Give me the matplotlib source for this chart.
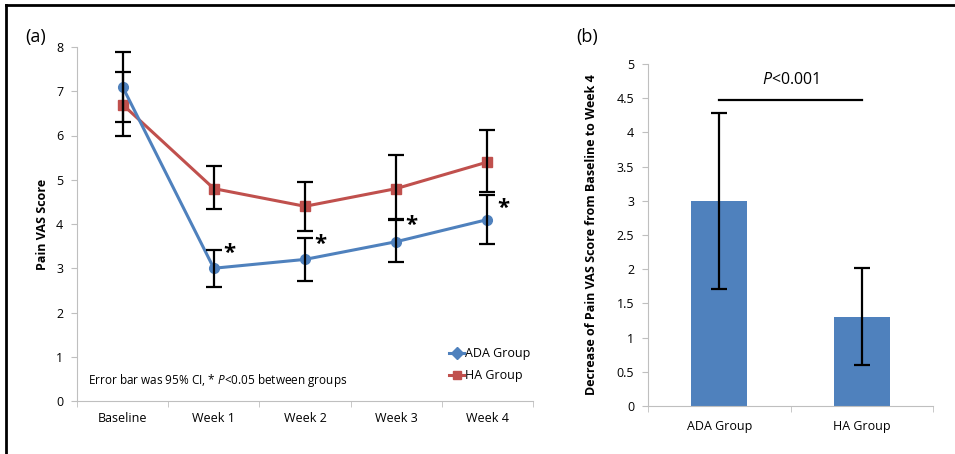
import matplotlib
matplotlib.use("Agg")
import matplotlib.pyplot as plt
from matplotlib.lines import Line2D
import numpy as np

plt.rcParams['font.family'] = ['Open Sans', 'DejaVu Sans']
plt.rcParams['mathtext.fontset'] = 'custom'
plt.rcParams['mathtext.rm'] = 'Open Sans'
plt.rcParams['mathtext.it'] = 'Open Sans:italic'
plt.rcParams['mathtext.bf'] = 'Open Sans:bold'

# ---- data panel (a)
timepoints = ["Baseline", "Week 1", "Week 2", "Week 3", "Week 4"]
ada_mean = [7.1, 3.0, 3.2, 3.6, 4.1]
ada_lo = [6.31, 2.58, 2.71, 3.13, 3.54]
ada_hi = [7.89, 3.42, 3.69, 4.12, 4.66]
ha_mean = [6.7, 4.8, 4.4, 4.8, 5.4]
ha_lo = [6.0, 4.34, 3.85, 4.1, 4.72]
ha_hi = [7.44, 5.32, 4.96, 5.55, 6.12]
star_y = [None, 3.33, 3.53, 3.96, 4.36]

# ---- data panel (b)
groups = ["ADA Group", "HA Group"]
decrease = [3.0, 1.3]
dec_lo = [1.71, 0.6]
dec_hi = [4.28, 2.02]
sig_y = 4.47
sig_text = 4.77

blue = "#4F81BD"
red = "#C0504D"
gray = "#BFBFBF"

fig = plt.figure(figsize=(9.55, 4.54), dpi=100)

# border
fig.add_artist(Line2D([6/955, 6/955], [0, 1 - 5/454], color="black", lw=2, transform=fig.transFigure))
fig.add_artist(Line2D([6/955, 1], [1 - 5/454, 1 - 5/454], color="black", lw=2, transform=fig.transFigure))

# ---------- panel (a)
ax = fig.add_axes([77/955, 53/454, 456/955, 354/454])
x = np.arange(len(timepoints))
ax.errorbar(x, ada_mean, yerr=[np.array(ada_mean) - np.array(ada_lo), np.array(ada_hi) - np.array(ada_mean)],
            fmt='none', ecolor='black', elinewidth=1.6, capsize=6, capthick=1.6, zorder=3)
ax.errorbar(x, ha_mean, yerr=[np.array(ha_mean) - np.array(ha_lo), np.array(ha_hi) - np.array(ha_mean)],
            fmt='none', ecolor='black', elinewidth=1.6, capsize=6, capthick=1.6, zorder=3)
ax.plot(x, ha_mean, color=red, lw=2.2, marker='s', ms=7, zorder=2)
ax.plot(x, ada_mean, color=blue, lw=2.2, marker='o', ms=7, zorder=2)
for xi, sy in zip(x, star_y):
    if sy is not None:
        ax.text(xi + 0.17, sy, "*", fontsize=16, fontweight='bold', ha='center', va='center')

ax.set_xlim(-0.5, 4.5)
ax.set_ylim(0, 8)
ax.set_yticks(range(0, 9))
ax.set_xticks(x)
ax.set_xticklabels(timepoints, fontsize=9)
ax.set_xticks(np.arange(-0.5, 5, 1.0), minor=True)
ax.tick_params(axis='x', which='major', length=0, pad=8)
ax.tick_params(axis='x', which='minor', length=4, color=gray)
ax.tick_params(axis='y', length=4, color=gray, labelsize=9, pad=6)
for s in ['top', 'right']:
    ax.spines[s].set_visible(False)
for s in ['left', 'bottom']:
    ax.spines[s].set_color(gray)
ax.set_ylabel("Pain VAS Score", fontsize=9, fontweight='bold', labelpad=5)
ax.text(0.025, 0.035, "Error bar was 95% CI, * $\\it{P}$<0.05 between groups", transform=ax.transAxes,
        fontsize=8.5, ha='left', va='bottom')
handles = [Line2D([0], [0], color=blue, lw=2.2, marker='D', ms=6),
           Line2D([0], [0], color=red, lw=2.2, marker='s', ms=6)]
fig.legend(handles, ["ADA Group", "HA Group"], loc='upper left', bbox_to_anchor=(449/955, 1 - 347/454),
           frameon=False, fontsize=9, handlelength=1.2, handletextpad=0.1, labelspacing=0.75,
           borderaxespad=0, borderpad=0)
fig.text(36/955, 1 - 37/454, "(a)", fontsize=13, ha='center', va='center')

# ---------- panel (b)
bx = fig.add_axes([648/955, 48/454, 285/955, 342/454])
xb = np.arange(len(groups))
bx.bar(xb, decrease, width=0.39, color=blue, zorder=2)
bx.errorbar(xb, decrease, yerr=[np.array(decrease) - np.array(dec_lo), np.array(dec_hi) - np.array(decrease)],
            fmt='none', ecolor='black', elinewidth=1.6, capsize=6, capthick=1.6, zorder=3)
bx.plot([xb[0], xb[1]], [sig_y, sig_y], color='black', lw=1.6)
bx.text((xb[0] + xb[1]) / 2, sig_text, "$\\it{P}$<0.001", fontsize=11.5, ha='center', va='center')
bx.set_xlim(-0.5, 1.5)
bx.set_ylim(0, 5)
yt = np.arange(0, 5.01, 0.5)
bx.set_yticks(yt)
bx.set_yticklabels([("%g" % v) for v in yt], fontsize=9)
bx.set_xticks(xb)
bx.set_xticklabels(groups, fontsize=9)
bx.set_xticks([-0.5, 0.5, 1.5], minor=True)
bx.tick_params(axis='x', which='major', length=0, pad=10)
bx.tick_params(axis='x', which='minor', length=4, color=gray)
bx.tick_params(axis='y', length=4, color=gray, pad=6)
for s in ['top', 'right']:
    bx.spines[s].set_visible(False)
for s in ['left', 'bottom']:
    bx.spines[s].set_color(gray)
bx.set_ylabel("Decrease of Pain VAS Score from Baseline to Week 4", fontsize=9, fontweight='bold', labelpad=13)
fig.text(587/955, 1 - 37/454, "(b)", fontsize=13, ha='center', va='center')

fig.savefig("out.png", dpi=100)
